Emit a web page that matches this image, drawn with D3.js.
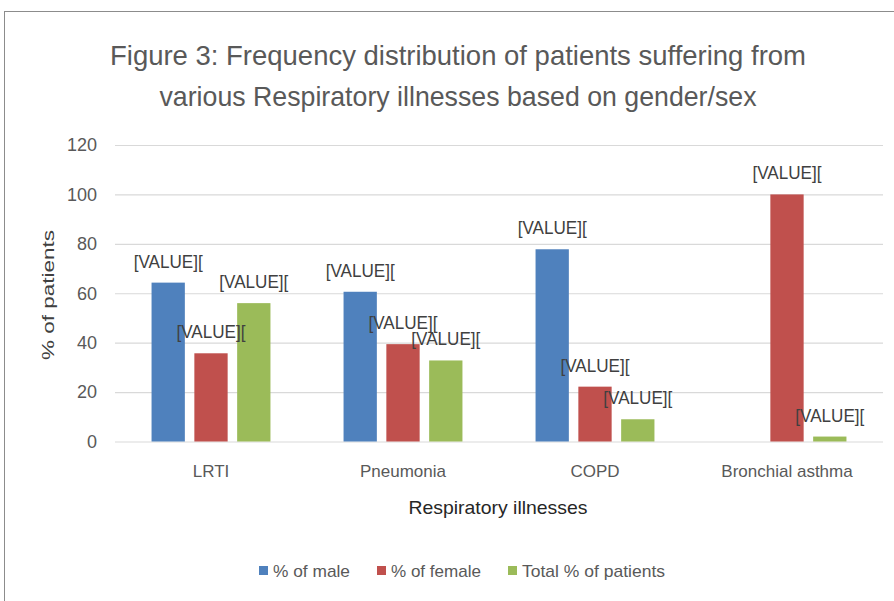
<!DOCTYPE html>
<html><head><meta charset="utf-8">
<script src="https://cdn.jsdelivr.net/npm/d3@7"></script>
<style>
html,body{margin:0;padding:0;background:#fff;}
svg{display:block;}
text{font-family:"Liberation Sans Narrow","Arial Narrow","Liberation Sans",sans-serif;}
</style></head>
<body>
<svg id="chart" width="894" height="601"></svg>
<script>
const categories = ["LRTI", "Pneumonia", "COPD", "Bronchial asthma"];
const seriesNames = ["% of male", "% of female", "Total % of patients"];
const maleValues = [64.3, 60.6, 77.8, 0];
const femaleValues = [35.7, 39.4, 22.2, 100];
const totalValues = [56, 32.8, 9, 2];
const yTicks = [0, 20, 40, 60, 80, 100, 120];
const colors = ["#4f81bd", "#c0504d", "#9bbb59"];
const titleLines = ["Figure 3: Frequency distribution of patients suffering from",
                    "various Respiratory illnesses based on gender/sex"];
const labelText = "[VALUE][";

const seriesValues = [maleValues, femaleValues, totalValues];
const svg = d3.select("#chart");

// outer chart border
svg.append("rect").attr("x", 4.5).attr("y", 11.5).attr("width", 900).attr("height", 600)
  .attr("fill", "#fff").attr("stroke", "#8c8c8c").attr("stroke-width", 1);

// title
const tw = [696, 597];
titleLines.forEach((t, i) => {
  svg.append("text").attr("x", 458).attr("y", 65 + i * 41)
    .attr("text-anchor", "middle").attr("font-size", 28).attr("fill", "#595959")
    .attr("textLength", tw[i]).attr("lengthAdjust", "spacingAndGlyphs").text(t);
});

const x = d3.scaleBand().domain(categories).range([115, 883]);
const xs = d3.scaleBand().domain(seriesNames).range([0, x.bandwidth()])
  .paddingInner(0.222).paddingOuter(0.854);
const y = d3.scaleLinear().domain([0, 120]).range([441.5, 145]);

// gridlines
const grid = svg.append("g").call(d3.axisLeft(y).tickValues(yTicks).tickSize(-(883 - 115)).tickFormat(""))
  .attr("transform", "translate(115,0)");
grid.select(".domain").remove();
grid.selectAll("line").attr("stroke", "#d9d9d9").attr("stroke-width", 1.2);

// y tick labels
const yAxis = svg.append("g").attr("transform", "translate(97,0)")
  .call(d3.axisLeft(y).tickValues(yTicks).tickSize(0).tickPadding(0));
yAxis.select(".domain").remove();
yAxis.selectAll("text").attr("font-size", 18).attr("fill", "#595959")
  .attr("font-family", "'Liberation Sans Narrow','Arial Narrow',sans-serif");

// bars
const groups = svg.append("g").selectAll("g").data(categories).join("g")
  .attr("transform", d => `translate(${x(d)},0)`);
seriesNames.forEach((s, si) => {
  groups.append("rect")
    .attr("x", xs(s)).attr("width", xs.bandwidth())
    .attr("y", (d, ci) => y(seriesValues[si][ci]))
    .attr("height", (d, ci) => y(0) - y(seriesValues[si][ci]))
    .attr("fill", colors[si]);
});
// data labels
seriesNames.forEach((s, si) => {
  groups.filter((d, ci) => seriesValues[si][ci] > 0).append("text")
    .attr("x", xs(s) + xs.bandwidth() / 2)
    .attr("y", d => y(seriesValues[si][categories.indexOf(d)]) - 15)
    .attr("text-anchor", "middle").attr("font-size", 18).attr("fill", "#404040")
    .attr("textLength", 69).attr("lengthAdjust", "spacingAndGlyphs")
    .text(labelText);
});

// x tick labels
const xAxis = svg.append("g").attr("transform", "translate(0,441.5)")
  .call(d3.axisBottom(x).tickSize(0).tickPadding(23));
xAxis.select(".domain").remove();
xAxis.selectAll("text").attr("font-size", 17).attr("fill", "#595959")
  .attr("font-family", "'Liberation Sans Narrow','Arial Narrow',sans-serif");

// axis titles
svg.append("text").attr("x", 498).attr("y", 514).attr("text-anchor", "middle")
  .attr("font-size", 19).attr("fill", "#262626").attr("textLength", 179)
  .attr("lengthAdjust", "spacingAndGlyphs").text("Respiratory illnesses");
svg.append("text").attr("transform", "translate(54,295) rotate(-90)")
  .attr("text-anchor", "middle").attr("font-size", 17).attr("fill", "#404040")
  .attr("font-family", "'Open Sans',sans-serif").attr("textLength", 130)
  .attr("lengthAdjust", "spacingAndGlyphs").text("% of patients");

// legend
const legendX = [259, 377, 508];
const legendW = [77, 90, 143];
seriesNames.forEach((s, i) => {
  const g = svg.append("g").attr("transform", `translate(${legendX[i]},0)`);
  g.append("rect").attr("x", 0).attr("y", 566).attr("width", 9).attr("height", 9).attr("fill", colors[i]);
  g.append("text").attr("x", 14).attr("y", 577).attr("font-size", 17).attr("fill", "#595959")
    .attr("textLength", legendW[i]).attr("lengthAdjust", "spacingAndGlyphs").text(s);
});
</script>
</body></html>
